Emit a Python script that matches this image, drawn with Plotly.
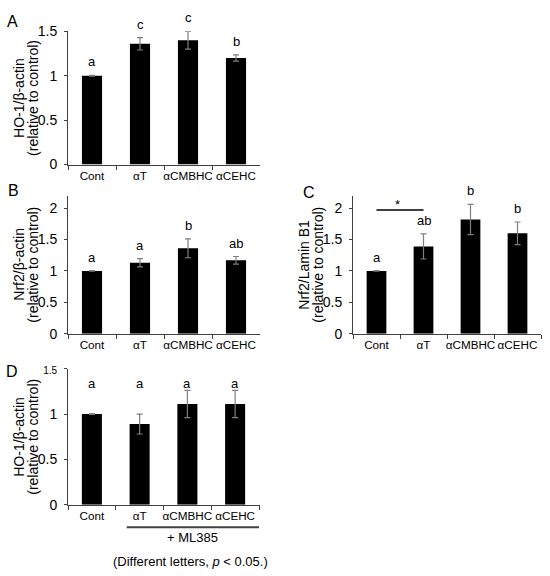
import plotly.graph_objects as go

# data
groups = ["Cont", "αT", "αCMBHC", "αCEHC"]

ho1_mean = [1.00, 1.36, 1.40, 1.20]
ho1_err = [0.005, 0.07, 0.10, 0.035]
ho1_letters = ["a", "c", "c", "b"]

nrf2_actin_mean = [1.00, 1.13, 1.36, 1.17]
nrf2_actin_err = [0.005, 0.065, 0.15, 0.06]
nrf2_actin_letters = ["a", "a", "b", "ab"]

nrf2_lamin_mean = [1.00, 1.39, 1.82, 1.60]
nrf2_lamin_err = [0.005, 0.20, 0.24, 0.18]
nrf2_lamin_letters = ["a", "ab", "b", "b"]

ho1_ml385_mean = [1.00, 0.89, 1.11, 1.11]
ho1_ml385_err = [0.005, 0.11, 0.15, 0.15]
ho1_ml385_letters = ["a", "a", "a", "a"]

W, H = 550, 576
FONT = "Liberation Sans, Arial, sans-serif"
AXIS_COL = "#404040"


def px_x(p):
    return p / W


def px_y(p):
    return 1 - p / H


# panel boxes in pixels: (x0, x1, y_bottom, y_top)
panels = [
    dict(name="A", box=(68, 260, 161, 24), yr=[0, 1.5],
         mean=ho1_mean, err=ho1_err, letters=ho1_letters,
         ytitle=["HO-1/β-actin", "(relative to control)"], label=(12, 14)),
    dict(name="B", box=(68, 260, 335, 193), yr=[0, 2.2],
         mean=nrf2_actin_mean, err=nrf2_actin_err, letters=nrf2_actin_letters,
         ytitle=["Nrf2/β-actin", "(relative to control)"], label=(13, 188)),
    dict(name="C", box=(353, 541, 335, 193), yr=[0, 2.2],
         mean=nrf2_lamin_mean, err=nrf2_lamin_err, letters=nrf2_lamin_letters,
         ytitle=["Nrf2/Lamin B1", "(relative to control)"], label=(309, 190)),
    dict(name="D", box=(68, 260, 511, 371), yr=[0, 1.5],
         mean=ho1_ml385_mean, err=ho1_ml385_err, letters=ho1_ml385_letters,
         ytitle=["HO-1/β-actin", "(relative to control)"], label=(12, 374)),
]

fig = go.Figure()
annotations = []
shapes = []
layout = {}

for i, p in enumerate(panels, start=1):
    sfx = "" if i == 1 else str(i)
    xa, ya = "x" + sfx, "y" + sfx
    x0, x1, yb, yt = p["box"]

    fig.add_trace(go.Bar(
        x=groups, y=p["mean"], xaxis=xa, yaxis=ya,
        marker=dict(color="black", line=dict(width=0)),
        width=0.42,
        error_y=dict(type="data", array=p["err"], visible=True,
                     color="#7f7f7f", thickness=1.2, width=3),
        showlegend=False, hoverinfo="skip",
    ))

    tickvals = [0, 0.5, 1, 1.5, 2] if p["yr"][1] > 2 else [0, 0.5, 1, 1.5]
    ticktext = [("%g" % v) for v in tickvals]
    if p["name"] == "D":
        ticktext[-1] = "<span style='font-size:10px'>1.5</span>"

    layout["xaxis" + sfx] = dict(
        domain=[px_x(x0), px_x(x1)], anchor=ya, type="category",
        showline=True, linecolor=AXIS_COL, linewidth=1,
        ticks="outside", tickson="boundaries", ticklen=4, tickcolor=AXIS_COL,
        tickangle=0,
        tickfont=dict(family=FONT, size=11.7, color="black"),
        showgrid=False, zeroline=False, fixedrange=True,
    )
    layout["yaxis" + sfx] = dict(
        domain=[px_y(yb), px_y(yt)], anchor=xa, range=p["yr"],
        tickvals=tickvals, ticktext=ticktext,
        showline=True, linecolor=AXIS_COL, linewidth=1,
        ticks="outside", ticklen=3, tickcolor=AXIS_COL,
        ticklabelstandoff=4,
        tickfont=dict(family=FONT, size=14, color="black"),
        showgrid=False, zeroline=False, fixedrange=True,
    )

    # y title: two rotated lines
    for line_txt, off in zip(p["ytitle"], (49, 35)):
        annotations.append(dict(
            text=line_txt, textangle=-90, xref="paper", yref="paper",
            x=px_x(x0 - off), y=(px_y(yb) + px_y(yt)) / 2,
            xanchor="center", yanchor="middle", showarrow=False,
            font=dict(family=FONT, size=14, color="black"),
        ))
    # panel letter
    annotations.append(dict(
        text=p["name"], xref="paper", yref="paper",
        x=px_x(p["label"][0]), y=px_y(p["label"][1]),
        xanchor="center", yanchor="middle", showarrow=False,
        font=dict(family=FONT, size=16, color="black"),
    ))
    # significance letters
    for g, m, e, lt in zip(groups, p["mean"], p["err"], p["letters"]):
        if p["name"] == "D":
            ann = dict(y=1.34, yanchor="middle")
        else:
            ann = dict(y=m + e, yanchor="bottom", yshift=4)
        ann.update(text=lt, x=g, xref=xa, yref=ya, xanchor="center",
                   showarrow=False,
                   font=dict(family=FONT, size=13, color="black"))
        annotations.append(ann)

# C: asterisk bracket between Cont and αT
shapes.append(dict(type="line", xref="x3", yref="y3", x0=0, x1=1,
                   y0=1.97, y1=1.97, line=dict(color="black", width=1.5)))
annotations.append(dict(text="*", x=0.45, y=2.06, xref="x3", yref="y3",
                        showarrow=False, yanchor="middle",
                        font=dict(family=FONT, size=13, color="black")))

# D: + ML385 underline
shapes.append(dict(type="line", xref="x4", yref="paper", x0=0.73, x1=3.5,
                   y0=px_y(534), y1=px_y(534),
                   line=dict(color=AXIS_COL, width=2)))
annotations.append(dict(text="+ ML385", x=2.1, y=px_y(545), xref="x4",
                        yref="paper", showarrow=False, yanchor="middle",
                        font=dict(family=FONT, size=13, color="black")))
annotations.append(dict(text="(Different letters, <i>p</i> < 0.05.)",
                        x=px_x(190), y=px_y(569), xref="paper", yref="paper",
                        showarrow=False, yanchor="middle",
                        font=dict(family=FONT, size=13, color="black")))

fig.update_layout(
    width=W, height=H, margin=dict(l=0, r=0, t=0, b=0),
    paper_bgcolor="white", plot_bgcolor="white",
    bargap=0.58, annotations=annotations, shapes=shapes,
    **layout,
)

# drop the default 8px page margin so the figure sits at the window origin
fig.write_html("out.html", config={"displayModeBar": False},
               post_script="document.body.style.margin='0';")
